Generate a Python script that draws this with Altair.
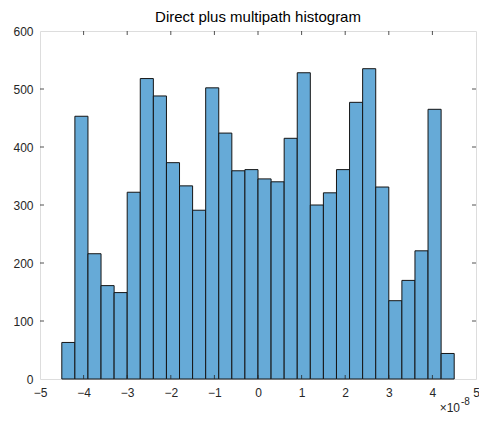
import altair as alt
import pandas as pd

# ---- data (x in units of 1e-8) ----
bin_left = [-4.5, -4.2, -3.9, -3.6, -3.3, -3.0, -2.7, -2.4, -2.1, -1.8,
            -1.5, -1.2, -0.9, -0.6, -0.3, 0.0, 0.3, 0.6, 0.9, 1.2,
            1.5, 1.8, 2.1, 2.4, 2.7, 3.0, 3.3, 3.6, 3.9, 4.2]
bin_right = [-4.2, -3.9, -3.6, -3.3, -3.0, -2.7, -2.4, -2.1, -1.8, -1.5,
             -1.2, -0.9, -0.6, -0.3, 0.0, 0.3, 0.6, 0.9, 1.2, 1.5,
             1.8, 2.1, 2.4, 2.7, 3.0, 3.3, 3.6, 3.9, 4.2, 4.5]
counts = [63, 453, 216, 161, 149, 322, 518, 488, 373, 333,
          291, 502, 424, 359, 361, 345, 340, 415, 528, 300,
          321, 361, 477, 535, 331, 135, 170, 221, 465, 44]
x_tick_values = [-5, -4, -3, -2, -1, 0, 1, 2, 3, 4, 5]
y_tick_values = [0, 100, 200, 300, 400, 500, 600]
x_inner_ticks = [-4, -3, -2, -1, 0, 1, 2, 3, 4]
y_inner_ticks = [100, 200, 300, 400, 500]
title_text = "Direct plus multipath histogram"
exp_base = "×10"
exp_power = "-8"

W, H = 436, 348
FONT = "Liberation Sans"
AXC = "#262626"
TICK = 4

df = pd.DataFrame({"left": bin_left, "right": bin_right, "count": counts})
df_xt = pd.DataFrame({"left": x_inner_ticks})
df_yt = pd.DataFrame({"count": y_inner_ticks})
one = pd.DataFrame({"k": [0]})

xs = alt.Scale(domain=[-5, 5], nice=False, zero=False)
ys = alt.Scale(domain=[0, 600], nice=False, zero=True)

x_axis = alt.Axis(values=x_tick_values, title=None, ticks=False, domain=False, grid=False,
                  labelFontSize=12, labelFont=FONT, labelColor=AXC, labelPadding=8,
                  format="d", labelFlush=False, labelOverlap=False)
y_axis = alt.Axis(values=y_tick_values, title=None, ticks=False, domain=False, grid=False,
                  labelFontSize=12, labelFont=FONT, labelColor=AXC, labelPadding=7,
                  format="d", labelFlush=False, labelOverlap=False)

bars = alt.Chart(df).mark_bar(color="#66AAD7", stroke="#151515", strokeWidth=1).encode(
    x=alt.X("left:Q", scale=xs, axis=x_axis),
    x2="right:Q",
    y=alt.Y("count:Q", scale=ys, axis=y_axis),
    y2=alt.datum(0),
)

bottom_ticks = alt.Chart(df_xt).mark_rule(color=AXC, strokeWidth=0.8).encode(
    x=alt.X("left:Q", scale=xs, axis=x_axis), y=alt.value(H), y2=alt.value(H - TICK))
top_ticks = alt.Chart(df_xt).mark_rule(color=AXC, strokeWidth=0.8).encode(
    x=alt.X("left:Q", scale=xs, axis=x_axis), y=alt.value(0), y2=alt.value(TICK))
left_ticks = alt.Chart(df_yt).mark_rule(color=AXC, strokeWidth=0.8).encode(
    y=alt.Y("count:Q", scale=ys, axis=y_axis), x=alt.value(0), x2=alt.value(TICK))
right_ticks = alt.Chart(df_yt).mark_rule(color=AXC, strokeWidth=0.8).encode(
    y=alt.Y("count:Q", scale=ys, axis=y_axis), x=alt.value(W), x2=alt.value(W - TICK))

exp1 = alt.Chart(one).mark_text(text=exp_base, font=FONT, fontSize=12, color=AXC,
                                align="right", baseline="middle").encode(
    x=alt.value(W - 16), y=alt.value(377))
exp2 = alt.Chart(one).mark_text(text=exp_power, font=FONT, fontSize=10, color=AXC,
                                align="left", baseline="middle").encode(
    x=alt.value(W - 15), y=alt.value(371))

chart = alt.layer(bars, bottom_ticks, top_ticks, left_ticks, right_ticks, exp1, exp2).properties(
    width=W, height=H,
    title=alt.TitleParams(title_text, fontSize=15, fontWeight="normal", font=FONT,
                          color="#000000", anchor="middle", offset=0),
    autosize=alt.AutoSizeParams(type="none"),
    padding={"left": 32, "top": 23, "right": 3, "bottom": 36},
).configure_view(stroke=AXC, strokeWidth=1).configure(background="white")

chart.save("out.html", embed_options={"renderer": "svg", "actions": False})
